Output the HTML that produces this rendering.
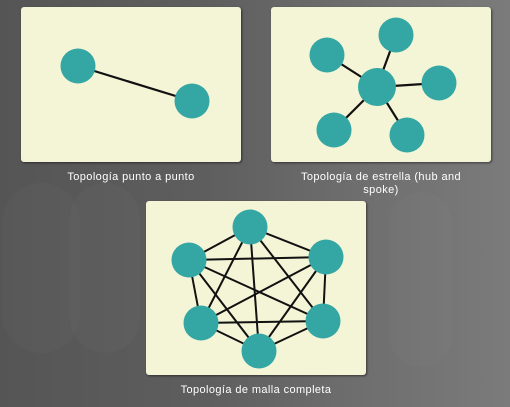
<!DOCTYPE html>
<html><head><meta charset="utf-8"><style>
html,body{margin:0;padding:0}
body{width:510px;height:407px;overflow:hidden;background:linear-gradient(90deg,#555 0%,#5e5e5e 40%,#6e6e6e 70%,#7b7b7b 100%);position:relative;font-family:"Liberation Sans",sans-serif}
.p{position:absolute;background:#f4f5d6;border-radius:3px;box-shadow:1px 1px 2px rgba(0,0,0,.5)}
.c{position:absolute;color:#fff;font-size:11px;text-align:center;line-height:13px;letter-spacing:0.4px}
.b{position:absolute;border-radius:40px;background:rgba(255,255,255,.02)}
svg{position:absolute;left:0;top:0}
</style></head><body>
<div class="b" style="left:2px;top:183px;width:78px;height:170px"></div>
<div class="b" style="left:70px;top:183px;width:70px;height:170px"></div>
<div class="b" style="left:390px;top:192px;width:62px;height:175px"></div>
<div class="p" style="left:21px;top:7px;width:220px;height:155px"></div>
<div class="p" style="left:271px;top:7px;width:220px;height:155px"></div>
<div class="p" style="left:146px;top:201px;width:220px;height:174px"></div>
<svg width="510" height="407">
<g stroke="#111" stroke-width="2.2">
<line x1="78" y1="66" x2="192" y2="101"/>
<line x1="377" y1="87" x2="327" y2="55"/>
<line x1="377" y1="87" x2="396" y2="35"/>
<line x1="377" y1="87" x2="439" y2="83"/>
<line x1="377" y1="87" x2="334" y2="130"/>
<line x1="377" y1="87" x2="407" y2="135"/>
</g>
<g stroke="#111" stroke-width="2">
<line x1="250" y1="227" x2="189" y2="260"/>
<line x1="250" y1="227" x2="326" y2="257"/>
<line x1="250" y1="227" x2="201" y2="323"/>
<line x1="250" y1="227" x2="323" y2="321"/>
<line x1="250" y1="227" x2="259" y2="351"/>
<line x1="189" y1="260" x2="326" y2="257"/>
<line x1="189" y1="260" x2="201" y2="323"/>
<line x1="189" y1="260" x2="323" y2="321"/>
<line x1="189" y1="260" x2="259" y2="351"/>
<line x1="326" y1="257" x2="201" y2="323"/>
<line x1="326" y1="257" x2="323" y2="321"/>
<line x1="326" y1="257" x2="259" y2="351"/>
<line x1="201" y1="323" x2="323" y2="321"/>
<line x1="201" y1="323" x2="259" y2="351"/>
<line x1="323" y1="321" x2="259" y2="351"/>
</g>
<g fill="#34a7a4">
<circle cx="78" cy="66" r="17.5"/><circle cx="192" cy="101" r="17.5"/>
<circle cx="377" cy="87" r="19"/><circle cx="327" cy="55" r="17.5"/><circle cx="396" cy="35" r="17.5"/><circle cx="439" cy="83" r="17.5"/><circle cx="334" cy="130" r="17.5"/><circle cx="407" cy="135" r="17.5"/>
<circle cx="250" cy="227" r="17.5"/><circle cx="189" cy="260" r="17.5"/><circle cx="326" cy="257" r="17.5"/><circle cx="201" cy="323" r="17.5"/><circle cx="323" cy="321" r="17.5"/><circle cx="259" cy="351" r="17.5"/>
</g>
</svg>
<div class="c" style="left:21px;top:171px;width:220px">Topología punto a punto</div>
<div class="c" style="left:271px;top:171px;width:220px">Topología de estrella (hub and<br>spoke)</div>
<div class="c" style="left:146px;top:384px;width:220px">Topología de malla completa</div>
</body></html>
